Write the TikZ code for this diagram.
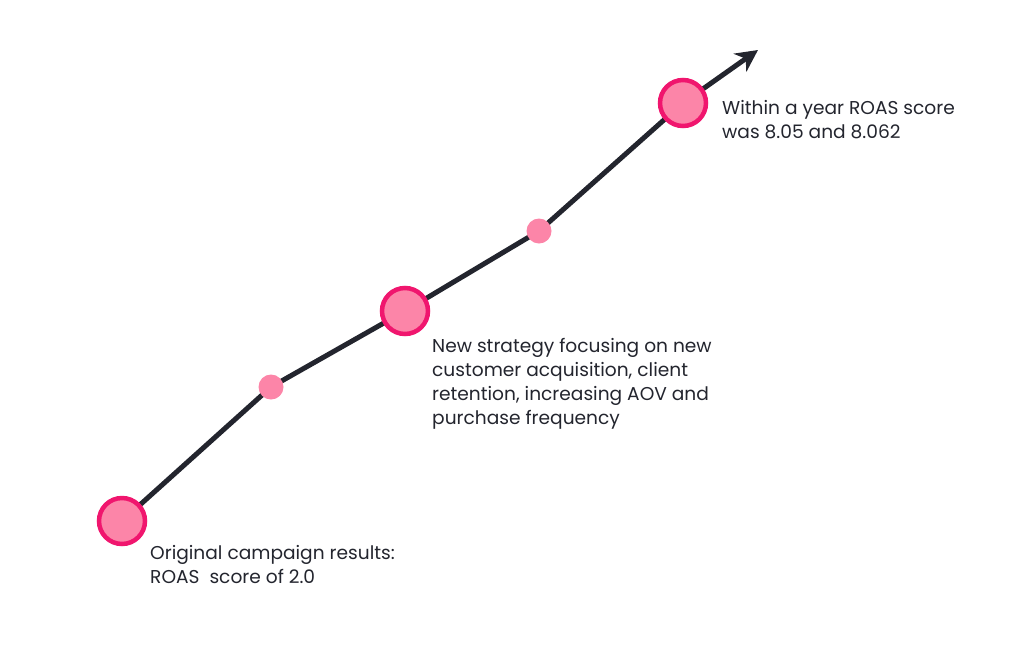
\documentclass[tikz,border=0pt]{standalone}
\usepackage{fontspec}
\setmainfont{Poppins}
\usetikzlibrary{arrows.meta}
\definecolor{ln}{HTML}{23252E}
\definecolor{rim}{HTML}{F0166E}
\definecolor{fil}{HTML}{FC85A8}
\begin{document}
\begin{tikzpicture}[x=1pt,y=-1pt,
  big/.style={circle,draw=rim,line width=4.5pt,fill=fil,minimum size=46pt,inner sep=0pt},
  small/.style={circle,fill=fil,minimum size=25pt,inner sep=0pt},
  lab/.style={anchor=north west,align=left,font=\fontsize{18.6}{24}\selectfont,inner sep=0pt,text=ln},
  path/.style={draw=ln,line width=5pt}]
\useasboundingbox (0,0) rectangle (1024,646);
\coordinate (a) at (122,521);
\coordinate (b) at (271,387);
\coordinate (c) at (405,311);
\coordinate (d) at (539,231);
\coordinate (e) at (683,103);
\coordinate (tip) at (758,50);
\draw[path,line join=round] (a)--(b)--(c)--(d)--(e);
\draw[path,-{Stealth[length=22pt,width=22pt,inset=7pt]}] (e)--(tip);
\node[big] (na) at (a) {};
\node[small] (nb) at (b) {};
\node[big] (nc) at (c) {};
\node[small] (nd) at (d) {};
\node[big] (ne) at (e) {};
\node[lab] (ta) at (150,545) {Original campaign results:\\ROAS\ \ score of 2.0};
\node[lab] (tc) at (432,338) {New strategy focusing on new\\customer acquisition, client\\retention, increasing AOV and\\purchase frequency};
\node[lab] (te) at (722,100) {Within a year ROAS score\\was 8.05 and 8.062};
\end{tikzpicture}
\end{document}
